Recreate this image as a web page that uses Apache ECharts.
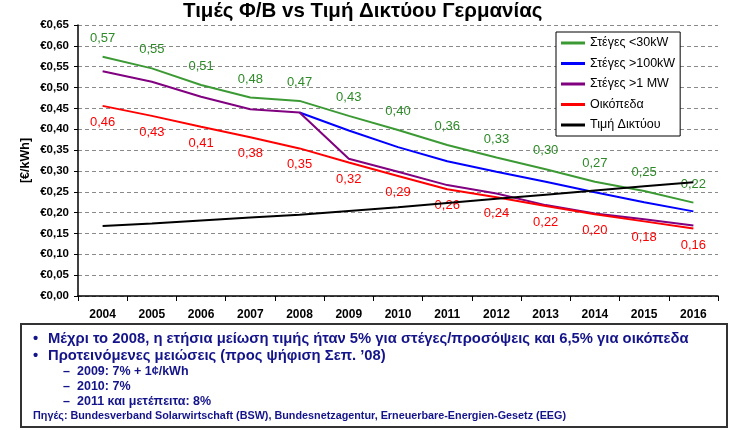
<!DOCTYPE html>
<html>
<head>
<meta charset="utf-8">
<script src="https://cdn.jsdelivr.net/npm/echarts@6/dist/echarts.min.js"></script>
<style>
html,body{margin:0;padding:0;background:#fff;}
#chart{width:740px;height:430px;}
</style>
</head>
<body>
<div id="chart"></div>
<script>
var years = ['2004','2005','2006','2007','2008','2009','2010','2011','2012','2013','2014','2015','2016'];
var roofSmall = [0.574, 0.546, 0.506, 0.476, 0.468, 0.432, 0.398, 0.362, 0.332, 0.304, 0.274, 0.252, 0.224];
var roofMid   = [null, null, null, null, 0.440, 0.397, 0.357, 0.323, 0.298, 0.274, 0.249, 0.225, 0.203];
var roofLarge = [0.539, 0.514, 0.478, 0.448, 0.440, 0.329, 0.298, 0.266, 0.246, 0.218, 0.198, 0.184, 0.169];
var ground    = [0.456, 0.432, 0.406, 0.381, 0.354, 0.320, 0.288, 0.256, 0.237, 0.216, 0.196, 0.179, 0.162];
var grid      = [0.168, 0.174, 0.181, 0.188, 0.195, 0.204, 0.213, 0.223, 0.233, 0.243, 0.253, 0.263, 0.273];
var seriesNames = ['Στέγες <30kW', 'Στέγες >100kW', 'Στέγες >1 MW', 'Οικόπεδα', 'Τιμή Δικτύου'];
var titleText = 'Τιμές Φ/Β vs Τιμή Δικτύου Γερμανίας';
var yAxisName = '[€/kWh]';
var notes = [
  {bullet:'•', text:'Μέχρι το 2008, η ετήσια μείωση τιμής ήταν 5% για στέγες/προσόψεις και 6,5% για οικόπεδα'},
  {bullet:'•', text:'Προτεινόμενες μειώσεις (προς ψήφιση Σεπ. \u201908)'},
  {bullet:'–', text:'2009: 7% + 1¢/kWh'},
  {bullet:'–', text:'2010: 7%'},
  {bullet:'–', text:'2011 και μετέπειτα: 8%'}
];
var sourceText = 'Πηγές: Bundesverband Solarwirtschaft (BSW), Bundesnetzagentur, Erneuerbare-Energien-Gesetz (EEG)';

var F = 'Arial, "Liberation Sans", sans-serif';
function fmt2(v){ return v.toFixed(2).replace('.', ','); }

var navy = '#14148a';
var g = [
  {type:'rect', shape:{x:21, y:324, width:706, height:103}, style:{fill:'#fff', stroke:'#333', lineWidth:2}, z:0}
];
var ys = [339, 356, 372, 387, 402];
notes.forEach(function(n, i){
  var sub = n.bullet === '–';
  g.push({type:'text', z:1, style:{text:n.bullet, x: sub?63:33, y:ys[i], fill:navy,
    font: 'bold ' + (sub?'12.5px ':'14.8px ') + F, verticalAlign:'middle'}});
  g.push({type:'text', z:1, style:{text:n.text, x: sub?77:48, y:ys[i], fill:navy,
    font: 'bold ' + (sub?'12.5px ':'14.8px ') + F, verticalAlign:'middle'}});
});
g.push({type:'text', z:1, style:{text:sourceText, x:33, y:416, fill:navy, font:'bold 10.8px ' + F, verticalAlign:'middle'}});

var lineBase = {type:'line', symbol:'circle', symbolSize:0, showSymbol:true, smooth:false, connectNulls:false};
var option = {
  animation:false,
  backgroundColor:'#fff',
  title:{text:titleText, left:183, top:1, padding:0,
    textStyle:{fontFamily:F, fontWeight:'bold', fontSize:20.5, color:'#000'}},
  legend:{
    orient:'vertical', left:556, top:32, padding:[4,5,4,5],
    backgroundColor:'#fff', borderColor:'#000', borderWidth:1, borderRadius:0,
    icon:'rect', itemWidth:24, itemHeight:3, itemGap:6.5,
    textStyle:{fontFamily:F, fontSize:12.5, color:'#000', lineHeight:14},
    data: seriesNames
  },
  grid:{left:78, right:22, top:25, bottom:134, containLabel:false},
  xAxis:{
    type:'category', data:years, boundaryGap:true,
    axisLine:{lineStyle:{color:'#000', width:1.5}},
    axisTick:{show:true, length:5, lineStyle:{color:'#000'}},
    axisLabel:{fontFamily:F, fontWeight:'bold', fontSize:12, color:'#000', margin:13},
    splitLine:{show:false}
  },
  yAxis:{
    type:'value', min:0, max:0.65, interval:0.05,
    name:yAxisName, nameLocation:'middle', nameRotate:90, nameGap:46, nameMoveOverlap:false,
    nameTextStyle:{fontFamily:F, fontWeight:'bold', fontSize:12.5, color:'#000'},
    axisLine:{show:true, lineStyle:{color:'#000', width:1.5}},
    axisTick:{show:true, length:4, lineStyle:{color:'#000'}},
    axisLabel:{fontFamily:F, fontWeight:'bold', fontSize:11.5, color:'#000', margin:9,
      formatter:function(v){ return '€' + fmt2(v); }},
    splitLine:{show:true, lineStyle:{color:'#8a8a8a', type:[4,3], width:1}}
  },
  series:[
    Object.assign({}, lineBase, {name:seriesNames[0], data:roofSmall, z:3,
      lineStyle:{color:'#3c9a34', width:2}, itemStyle:{color:'#3c9a34'},
      label:{show:true, position:'top', distance:12, color:'#2e8a28', fontFamily:F, fontSize:13,
        formatter:function(p){ return fmt2(p.value); }}}),
    Object.assign({}, lineBase, {name:seriesNames[1], data:roofMid, z:3,
      lineStyle:{color:'#0000ff', width:2}, itemStyle:{color:'#0000ff'}}),
    Object.assign({}, lineBase, {name:seriesNames[2], data:roofLarge, z:3,
      lineStyle:{color:'#800080', width:2}, itemStyle:{color:'#800080'}}),
    Object.assign({}, lineBase, {name:seriesNames[3], data:ground, z:3,
      lineStyle:{color:'#ff0000', width:2}, itemStyle:{color:'#ff0000'},
      label:{show:true, position:'bottom', distance:10, color:'#ff0000', fontFamily:F, fontSize:13,
        formatter:function(p){ return fmt2(p.value); }}}),
    Object.assign({}, lineBase, {name:seriesNames[4], data:grid, z:4,
      lineStyle:{color:'#000', width:2}, itemStyle:{color:'#000'}})
  ],
  graphic:g
};
var chart = echarts.init(document.getElementById('chart'), null, {renderer:'canvas'});
chart.setOption(option);
</script>
</body>
</html>
